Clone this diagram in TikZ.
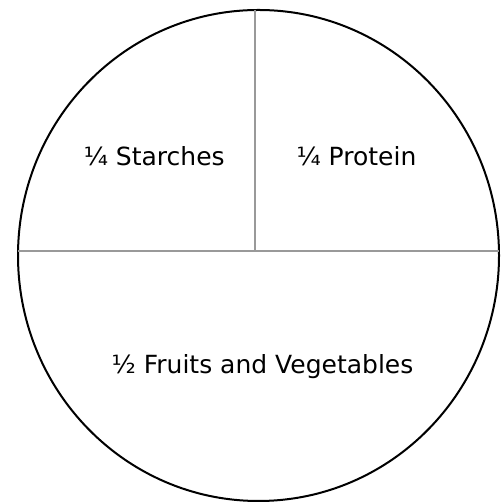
\documentclass[tikz,border=0pt]{standalone}
\usepackage{fontspec}
\setmainfont{DejaVu Sans}
\begin{document}
\begin{tikzpicture}[x=1pt,y=1pt,
  lbl/.style={font=\fontsize{25}{28}\selectfont, inner sep=0pt, anchor=base},
  divider/.style={draw=black!40, line width=1.2pt},
  plate/.style={draw=black, line width=2pt}]
\useasboundingbox (0,0) rectangle (503,502);
\fill[white] (0,0) rectangle (503,502);
\coordinate (c) at (258.5,246.5);
\draw[plate] (c) ellipse [x radius=240.5, y radius=245.5];
\coordinate (top) at (255,492);
\coordinate (mid) at (255,251);
\coordinate (left) at (18,251);
\coordinate (right) at (499,251);
\draw[divider] (top) -- (mid);
\draw[divider] (left) -- (right);
\node[lbl] (starch) at (154.2,336) {¼ Starches};
\node[lbl] (prot) at (356.5,336) {¼ Protein};
\node[lbl] (veg) at (262.5,128) {½ Fruits and Vegetables};
\end{tikzpicture}
\end{document}
